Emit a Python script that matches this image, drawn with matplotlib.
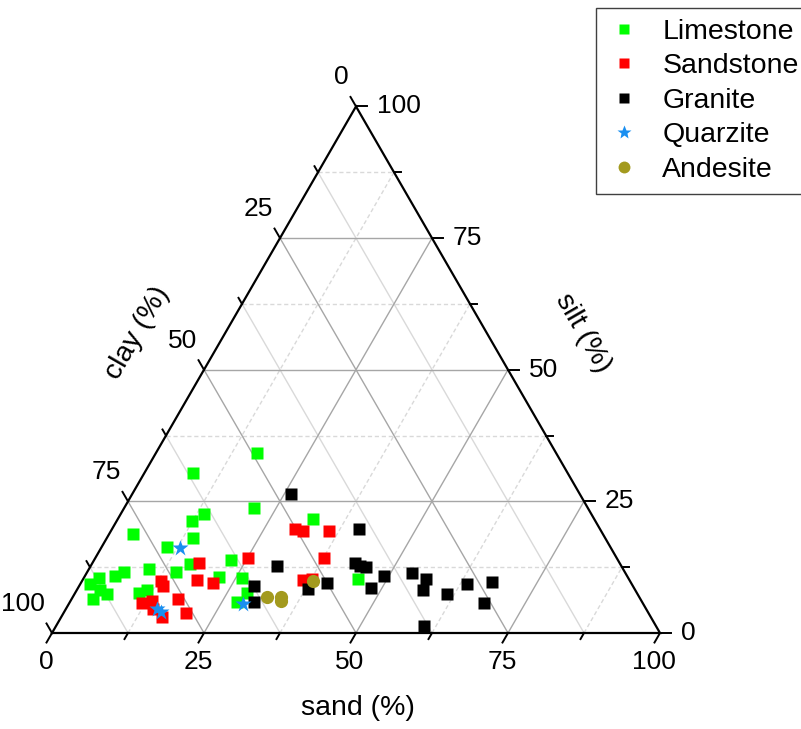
import numpy as np
import matplotlib.pyplot as plt

plt.rcParams['font.family'] = ['Liberation Sans', 'DejaVu Sans']

# sand and silt in %, clay = 100 - sand - silt
lime_sand = [16.6, 8.0, 21.3, 13.7, 12.4, 3.9, 14.2, 10.7, 32.0, 22.5, 16.1, 14.6, 9.9, 6.0,
             5.0, 2.5, 1.6, 3.8, 5.3, 3.5, 11.5, 10.5, 22.2, 26.0, 28.3, 27.5, 45.2]
lime_silt = [34.2, 30.4, 23.7, 22.6, 21.3, 18.8, 18.0, 16.3, 21.7, 13.9, 13.1, 11.6, 12.2, 11.6,
             10.8, 10.4, 9.3, 8.2, 7.4, 6.5, 8.2, 7.6, 10.6, 10.4, 7.6, 5.9, 10.3]

sand_sand = [17.6, 25.1, 30.1, 31.6, 35.9, 37.6, 18.8, 21.7, 13.0, 13.8, 17.5, 13.4, 12.0,
             16.6, 20.1, 36.3, 37.6, 14.3]
sand_silt = [13.3, 14.2, 19.8, 19.4, 19.4, 14.2, 10.1, 9.5, 9.9, 8.9, 6.5, 6.1, 5.7,
             3.0, 3.8, 10.1, 10.3, 4.6]

gran_sand = [26.1, 30.7, 28.7, 30.3, 37.9, 40.5, 40.6, 43.2, 44.3, 45.4, 49.2, 48.2, 53.5,
             56.4, 56.9, 61.3, 63.6, 67.5, 68.2, 60.5]
gran_silt = [26.4, 12.7, 8.9, 5.9, 8.4, 9.5, 19.8, 13.3, 12.7, 12.5, 10.8, 8.5, 11.4,
             10.3, 8.2, 7.4, 9.3, 9.7, 5.7, 1.3]

quar_sand = [13.0, 15.0, 15.9, 28.7]
quar_silt = [16.1, 4.6, 4.0, 5.5]

ande_sand = [32.0, 34.3, 34.6, 38.0]
ande_silt = [6.8, 6.8, 6.1, 9.9]

ticks = [0, 25, 50, 75, 100]
minor = [12.5, 37.5, 62.5, 87.5]

h = np.sqrt(3) / 2


def tern(sand, silt):
    sand = np.asarray(sand, float)
    silt = np.asarray(silt, float)
    return sand + silt / 2, silt * h


k = 6.08  # pixels per unit
fig = plt.figure(figsize=(8.01, 7.29), dpi=100)
ax = fig.add_axes([0, 0, 1, 1])
ax.set_xlim(-52 / k, (801 - 52) / k)
ax.set_ylim(-(729 - 633) / k, 633 / k)
ax.axis('off')

# grid
for v in minor + ticks[1:-1]:
    major = v in ticks
    col = '#a6a6a6' if major else '#d9d9d9'
    ls = '-' if major else (0, (3, 2))
    # constant silt
    x, y = tern([0, 100 - v], [v, v])
    ax.plot(x, y, color=col, lw=1, ls=ls, zorder=1)
    # constant sand
    x, y = tern([v, v], [0, 100 - v])
    ax.plot(x, y, color=col, lw=1, ls=ls, zorder=1)
    # constant clay
    x, y = tern([100 - v, 0], [0, 100 - v])
    ax.plot(x, y, color=col, lw=1, ls='-', zorder=1)

# triangle frame
x, y = tern([0, 100, 0, 0], [0, 0, 100, 0])
ax.plot(x, y, color='black', lw=1.6, zorder=2, solid_joinstyle='miter')

# ticks
for v in ticks + minor:
    L = (11 if v in ticks else 7) / k
    # bottom (sand)
    x, y = tern(v, 0)
    ax.plot([x, x - 0.5 * L], [y, y - h * L], color='black', lw=1.4, zorder=2)
    # right (silt)
    x, y = tern(100 - v, v)
    ax.plot([x, x + L], [y, y], color='black', lw=1.4, zorder=2)
    # left (clay)
    x, y = tern(0, 100 - v)
    ax.plot([x, x - 0.5 * L], [y, y + h * L], color='black', lw=1.4, zorder=2)

fs = 20.5
tfs = 19
for v in ticks:
    x, y = tern(v, 0)
    ax.text(x - 6 / k, y - 29 / k, str(v), ha='center', va='center', fontsize=tfs)
    x, y = tern(100 - v, v)
    ax.text(x + 21 / k, y, str(v), ha='left', va='center', fontsize=tfs)
    x, y = tern(0, 100 - v)
    ax.text(x - 7 / k, y + 29 / k, str(v), ha='right', va='center', fontsize=tfs)

ax.text((358 - 52) / k, (633 - 708) / k, 'sand (%)', ha='center', va='center', fontsize=fs)
ax.text((137 - 52) / k, (633 - 333) / k, 'clay (%)', ha='center', va='center',
        fontsize=fs, rotation=60, rotation_mode='anchor')
ax.text((583 - 52) / k, (633 - 333) / k, 'silt (%)', ha='center', va='center',
        fontsize=fs, rotation=-60, rotation_mode='anchor')

# data
x, y = tern(lime_sand, lime_silt)
ax.plot(x, y, 's', color='#00ff00', ms=8, mec='none', label='Limestone', zorder=3)
x, y = tern(sand_sand, sand_silt)
ax.plot(x, y, 's', color='#ff0000', ms=8, mec='none', label='Sandstone', zorder=3)
x, y = tern(gran_sand, gran_silt)
ax.plot(x, y, 's', color='black', ms=8, mec='none', label='Granite', zorder=3)
x, y = tern(quar_sand, quar_silt)
ax.plot(x, y, '*', color='#1a8ff0', ms=12, mec='none', label='Quarzite', zorder=3)
x, y = tern(ande_sand, ande_silt)
ax.plot(x, y, 'o', color='#a39a1e', ms=9.5, mec='none', label='Andesite', zorder=3)

leg = fig.legend(loc='upper left', bbox_to_anchor=(596 / 801, 1 - 8 / 729),
                 fontsize=fs, frameon=True, fancybox=False, framealpha=1,
                 edgecolor='#404040', borderaxespad=0, handlelength=1.2,
                 handletextpad=0.75, labelspacing=0.3, borderpad=0.38, markerscale=0.9)
leg.get_frame().set_linewidth(1)

fig.savefig('out.png', dpi=100)
